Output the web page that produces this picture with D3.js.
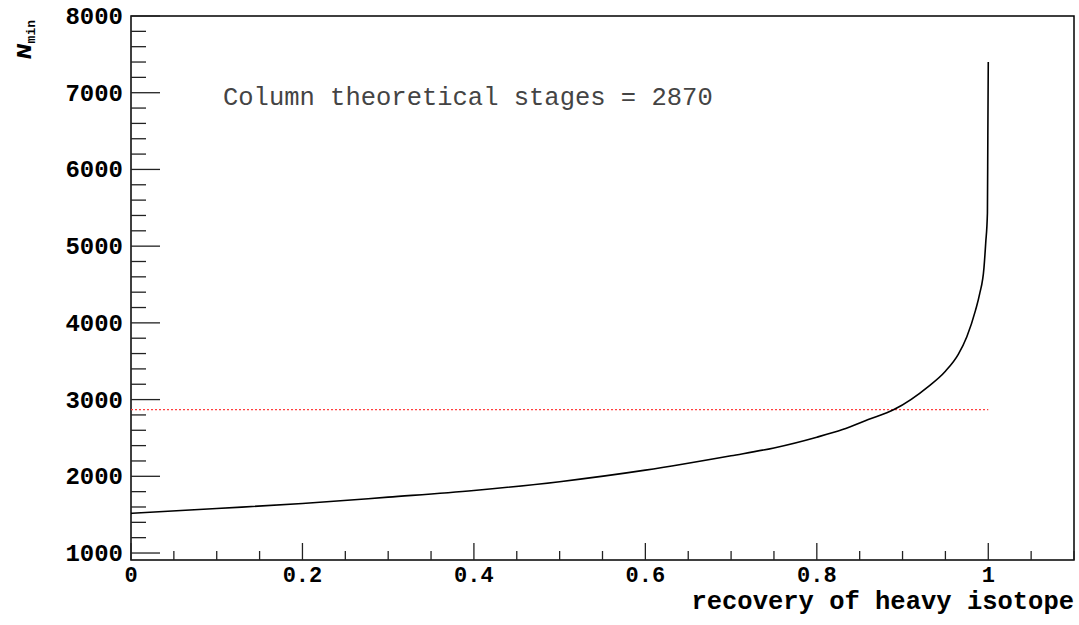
<!DOCTYPE html>
<html>
<head>
<meta charset="utf-8">
<script src="https://cdn.jsdelivr.net/npm/d3@7"></script>
<style>
  body { margin: 0; background: #fff; }
  svg { display: block; }
</style>
</head>
<body>
<script>
// curve: recovery of heavy isotope vs minimum stages
var recovery = [0, 0.1, 0.2, 0.3, 0.4, 0.5, 0.6, 0.7, 0.75, 0.8, 0.83, 0.86, 0.89, 0.93, 0.95, 0.965, 0.975, 0.985, 0.99, 0.995, 0.997, 0.999, 0.9995, 1.0];
var nmin     = [1517, 1580, 1645, 1728, 1815, 1930, 2080, 2268, 2370, 2510, 2610, 2740, 2870, 3170, 3370, 3590, 3820, 4160, 4380, 4720, 5040, 5430, 6440, 7400];
var stages = 2870;

var xTicks = [0, 0.2, 0.4, 0.6, 0.8, 1];
var yTicks = [1000, 2000, 3000, 4000, 5000, 6000, 7000, 8000];

var W = 1079, H = 625;
// (don't call these top/left... window.top is read-only)
var frame = {left: 131, right: 1074, top: 16, bottom: 560};

var svg = d3.select('body').append('svg')
    .attr('width', W)
    .attr('height', H);

var x = d3.scaleLinear().domain([0, 1.1]).range([frame.left, frame.right]);
var y = d3.scaleLinear().domain([909, 8000]).range([frame.bottom, frame.top]);

var mono = "'Liberation Mono', 'DejaVu Sans Mono', monospace";

// frame
svg.append('rect')
    .attr('x', frame.left).attr('y', frame.top)
    .attr('width', frame.right - frame.left).attr('height', frame.bottom - frame.top)
    .attr('fill', 'none')
    .attr('stroke', '#000')
    .attr('stroke-width', 1.5);

// x ticks (minor every 0.05, major every 0.2)
var xMinor = d3.range(0, 1.1001, 0.05);
svg.append('g').selectAll('line')
    .data(xMinor)
    .enter().append('line')
    .attr('x1', function(d) { return x(d); })
    .attr('x2', function(d) { return x(d); })
    .attr('y1', frame.bottom)
    .attr('y2', function(d) {
      var major = Math.abs(d / 0.2 - Math.round(d / 0.2)) < 1e-6;
      return frame.bottom - (major ? 17 : 9);
    })
    .attr('stroke', '#222')
    .attr('stroke-width', 1.3);

svg.append('g').selectAll('text')
    .data(xTicks)
    .enter().append('text')
    .attr('x', function(d) { return x(d); })
    .attr('y', 582)
    .attr('text-anchor', 'middle')
    .style('font-family', mono)
    .style('font-weight', 'bold')
    .style('font-size', '22px')
    .text(function(d) { return d3.format('')(d); });

// y ticks (minor every 200, major every 1000)
var yMinor = d3.range(1000, 8001, 200);
svg.append('g').selectAll('line')
    .data(yMinor)
    .enter().append('line')
    .attr('x1', frame.left)
    .attr('x2', function(d) { return frame.left + (d % 1000 === 0 ? 29 : 15); })
    .attr('y1', function(d) { return y(d); })
    .attr('y2', function(d) { return y(d); })
    .attr('stroke', '#222')
    .attr('stroke-width', 1.3);

svg.append('g').selectAll('text')
    .data(yTicks)
    .enter().append('text')
    .attr('x', 123)
    .attr('y', function(d) { return y(d) + 8; })
    .attr('text-anchor', 'end')
    .style('font-family', mono)
    .style('font-weight', 'bold')
    .style('font-size', '24px')
    .text(function(d) { return d; });

// axis titles
svg.append('text')
    .attr('x', 1074)
    .attr('y', 609)
    .attr('text-anchor', 'end')
    .style('font-family', mono)
    .style('font-weight', 'bold')
    .style('font-size', '25.5px')
    .text('recovery of heavy isotope');

var yt = svg.append('text')
    .attr('transform', 'translate(31,20) rotate(-90)')
    .attr('text-anchor', 'end');
yt.append('tspan')
    .style('font-family', "'DejaVu Sans', sans-serif")
    .style('font-weight', 'bold')
    .style('font-style', 'italic')
    .style('font-size', '19px')
    .text('N');
yt.append('tspan')
    .attr('dy', 4)
    .style('font-family', mono)
    .style('font-weight', 'bold')
    .style('font-size', '13px')
    .text('min');

// stages line
svg.append('line')
    .attr('x1', x(0)).attr('x2', x(1))
    .attr('y1', y(stages)).attr('y2', y(stages))
    .attr('stroke', '#ff4040')
    .attr('stroke-width', 1.3)
    .attr('stroke-dasharray', '2,2');

// curve
var pts = recovery.map(function(r, i) { return {x: r, y: nmin[i]}; });
var line = d3.line()
    .x(function(d) { return x(d.x); })
    .y(function(d) { return y(d.y); })
    .curve(d3.curveMonotoneX);
svg.append('path')
    .attr('d', line(pts))
    .attr('fill', 'none')
    .attr('stroke', '#000')
    .attr('stroke-width', 1.6);

// annotation
svg.append('text')
    .attr('x', 223)
    .attr('y', 105)
    .style('font-family', mono)
    .style('font-size', '25.5px')
    .attr('fill', '#444')
    .text('Column theoretical stages = ' + stages);
</script>
</body>
</html>
